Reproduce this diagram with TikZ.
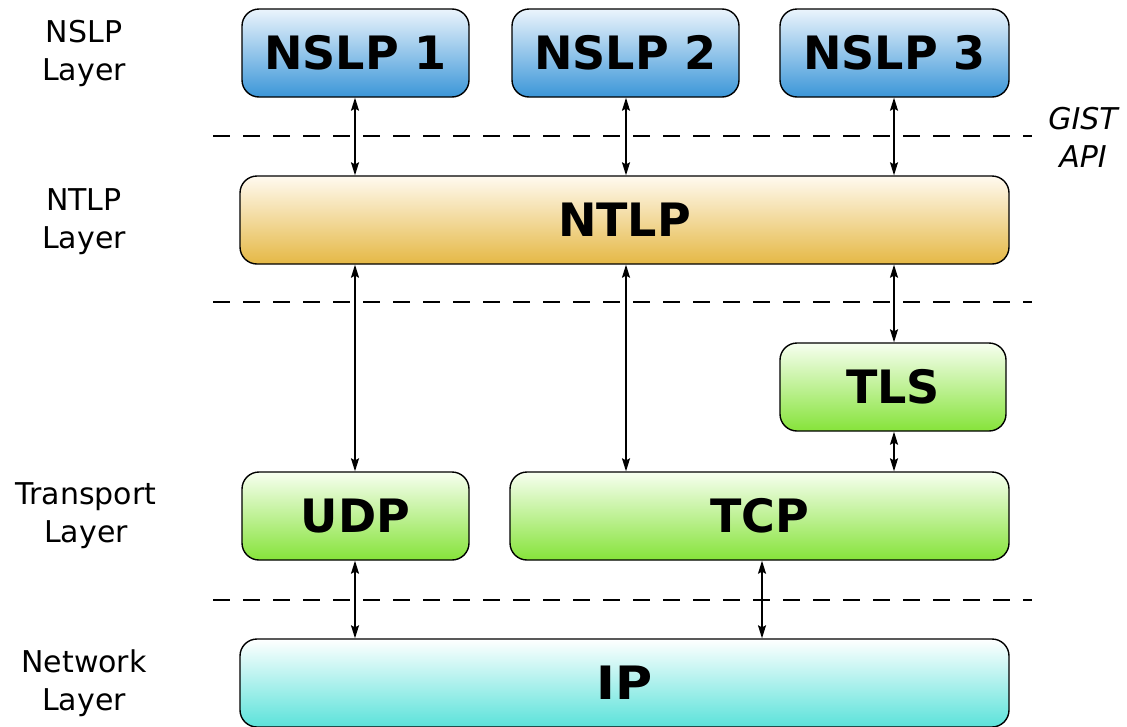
\documentclass[tikz,border=0pt]{standalone}
\usepackage{fontspec}
\setmainfont{DejaVu Sans}
\usetikzlibrary{arrows.meta}
\definecolor{bluetop}{HTML}{EBF4FC}
\definecolor{bluebot}{HTML}{3B96D8}
\definecolor{goldtop}{HTML}{FFFAF0}
\definecolor{goldbot}{HTML}{E5B845}
\definecolor{greentop}{HTML}{F7FFF0}
\definecolor{greenbot}{HTML}{86E33A}
\definecolor{cyantop}{HTML}{FFFFFF}
\definecolor{cyanbot}{HTML}{5BE2DA}
\begin{document}
\begin{tikzpicture}[x=1pt,y=-1pt,
  box/.style={draw=black, line width=1.4pt, rounded corners=17pt, inner sep=0pt,
    text height=33.5pt, text depth=0pt, minimum height=88,
    font=\fontsize{46}{55}\selectfont\bfseries},
  bluebox/.style={box, top color=bluetop, bottom color=bluebot},
  goldbox/.style={box, top color=goldtop, bottom color=goldbot},
  greenbox/.style={box, top color=greentop, bottom color=greenbot},
  cyanbox/.style={box, top color=cyantop, bottom color=cyanbot},
  lab/.style={font=\fontsize{30}{38}\selectfont, align=center, inner sep=0pt},
  sep/.style={line width=1.1pt, dash pattern=on 17pt off 13pt},
  link/.style={line width=1.2pt, {Stealth[length=13pt,width=8pt,inset=2pt]}-{Stealth[length=13pt,width=8pt,inset=2pt]}}
]
\useasboundingbox (0,0) rectangle (1127,726);

% separators
\coordinate (s1a) at (213,136); \coordinate (s1b) at (1032,136);
\coordinate (s2a) at (213,302); \coordinate (s2b) at (1032,302);
\coordinate (s3a) at (213,600); \coordinate (s3b) at (1032,600);
\draw[sep] (s1a) -- (s1b);
\draw[sep] (s2a) -- (s2b);
\draw[sep] (s3a) -- (s3b);

% boxes
\node[bluebox, minimum width=227] (nslp1) at (355.5,53) {NSLP 1};
\node[bluebox, minimum width=227] (nslp2) at (625.5,53) {NSLP 2};
\node[bluebox, minimum width=229] (nslp3) at (894.5,53) {NSLP 3};
\node[goldbox, minimum width=769] (ntlp) at (624.5,220) {NTLP};
\node[greenbox, minimum width=226] (tls) at (893,387) {TLS};
\node[greenbox, minimum width=227] (udp) at (355.5,516) {UDP};
\node[greenbox, minimum width=499] (tcp) at (759.5,516) {TCP};
\node[cyanbox, minimum width=769] (ip) at (624.5,683) {\scalebox{1.1}[1]{IP}};

% layer labels
\node[lab] (l1) at (84,53) {NSLP\\Layer};
\node[lab] (l2) at (84,222) {NTLP\\Layer};
\node[lab] (l3) at (86,516) {Transport\\Layer};
\node[lab] (l4) at (84,683) {Network\\Layer};
\node[lab, font=\fontsize{30}{38}\selectfont\itshape] (gist) at (1083,137) {GIST\\API};

% connectors
\coordinate (xa) at (355,0);
\coordinate (xb) at (626,0);
\coordinate (xc) at (894,0);
\coordinate (xd) at (762,0);
\draw[link] (nslp1.south -| xa) -- (ntlp.north -| xa);
\draw[link] (nslp2.south -| xb) -- (ntlp.north -| xb);
\draw[link] (nslp3.south -| xc) -- (ntlp.north -| xc);
\draw[link] (ntlp.south -| xa) -- (udp.north -| xa);
\draw[link] (ntlp.south -| xb) -- (tcp.north -| xb);
\draw[link] (ntlp.south -| xc) -- (tls.north -| xc);
\draw[link] (tls.south -| xc) -- (tcp.north -| xc);
\draw[link] (udp.south -| xa) -- (ip.north -| xa);
\draw[link] (tcp.south -| xd) -- (ip.north -| xd);
\end{tikzpicture}
\end{document}
